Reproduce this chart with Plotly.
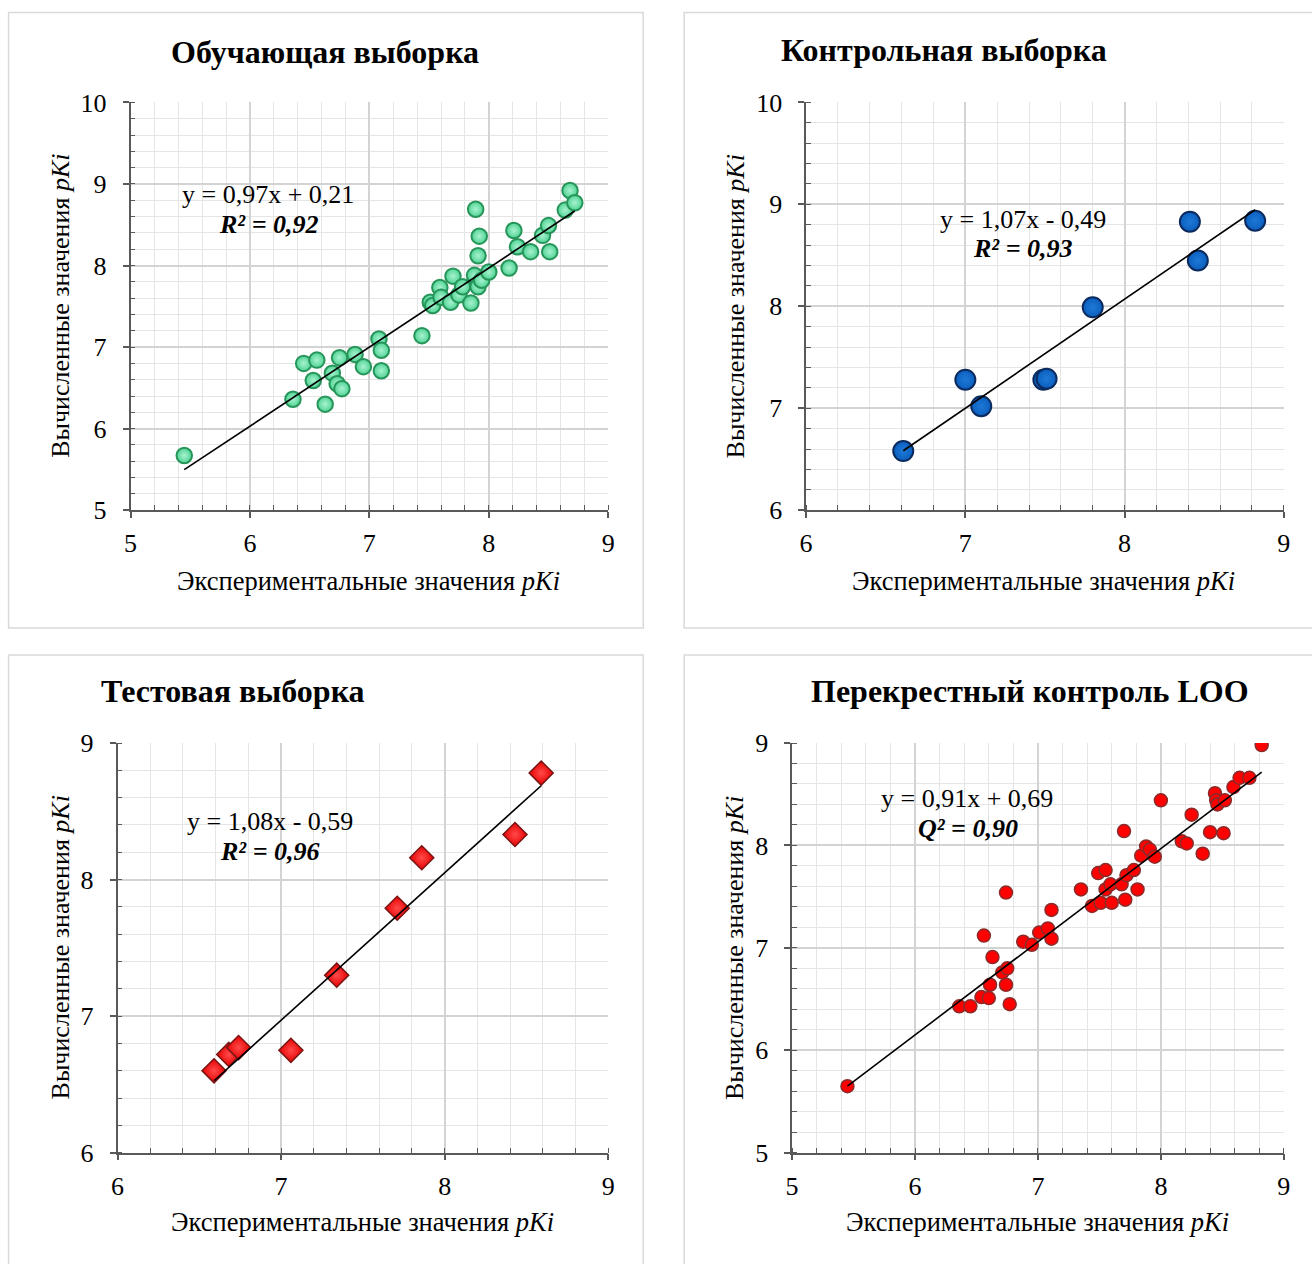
import plotly.graph_objects as go

W, H = 1320, 1280
SERIF = "Liberation Serif"

# placement of the figure in the final 1312 x 1264 view:
# view_x = OX + SX * figure_x, view_y = OY + SY * figure_y
OX, SX = 6.4, 0.99
OY, SY = 13.5, 0.978

# ---- data: experimental (x) vs. calculated (y) pKi ----
train_x = [5.45, 6.36, 6.45, 6.56, 6.53, 6.63, 6.69, 6.75, 6.73, 6.77, 6.88, 6.95, 7.08, 7.10,
           7.10, 7.44, 7.51, 7.53, 7.59, 7.60, 7.68, 7.70, 7.75, 7.78, 7.85, 7.88, 7.91, 7.94,
           8.00, 7.89, 7.92, 7.91, 8.17, 8.21, 8.24, 8.35, 8.45, 8.50, 8.51, 8.64, 8.68, 8.72]
train_y = [5.67, 6.36, 6.80, 6.84, 6.59, 6.30, 6.68, 6.87, 6.55, 6.49, 6.91, 6.76, 7.10, 6.96,
           6.71, 7.14, 7.55, 7.51, 7.73, 7.61, 7.55, 7.87, 7.64, 7.74, 7.54, 7.88, 7.74, 7.82,
           7.92, 8.69, 8.36, 8.12, 7.97, 8.43, 8.23, 8.17, 8.37, 8.49, 8.17, 8.68, 8.92, 8.77]

control_x = [6.61, 7.00, 7.10, 7.49, 7.51, 7.80, 8.41, 8.46, 8.82]
control_y = [6.58, 7.28, 7.02, 7.28, 7.29, 7.99, 8.83, 8.45, 8.84]

test_x = [6.59, 6.68, 6.74, 7.06, 7.34, 7.71, 7.86, 8.43, 8.59]
test_y = [6.60, 6.72, 6.77, 6.75, 7.30, 7.79, 8.16, 8.33, 8.78]

loo_x = [5.45, 6.36, 6.45, 6.54, 6.60, 6.61, 6.56, 6.63, 6.71, 6.75, 6.74, 6.77, 6.74, 6.88,
         6.95, 7.01, 7.08, 7.11, 7.11, 7.35, 7.44, 7.49, 7.55, 7.51, 7.60, 7.55, 7.59, 7.68,
         7.72, 7.71, 7.78, 7.81, 7.70, 7.84, 7.88, 7.91, 7.95, 8.00, 8.17, 8.21, 8.25, 8.34,
         8.40, 8.51, 8.44, 8.45, 8.46, 8.52, 8.59, 8.64, 8.72, 8.82]
loo_y = [5.65, 6.43, 6.43, 6.52, 6.51, 6.64, 7.12, 6.91, 6.76, 6.80, 6.64, 6.45, 7.54, 7.06,
         7.03, 7.15, 7.19, 7.09, 7.37, 7.57, 7.41, 7.73, 7.76, 7.44, 7.44, 7.57, 7.62, 7.62,
         7.71, 7.47, 7.76, 7.57, 8.14, 7.90, 7.99, 7.96, 7.89, 8.44, 8.04, 8.02, 8.30, 7.92,
         8.13, 8.12, 8.51, 8.44, 8.40, 8.44, 8.57, 8.66, 8.66, 8.98]

# regression coefficients (slope, intercept) and fit statistics shown on each panel
fits = [(0.97, 0.21), (1.07, -0.49), (1.08, -0.59), (0.91, 0.69)]
eq_texts = ["y = 0,97x + 0,21", "y = 1,07x - 0,49", "y = 1,08x - 0,59", "y = 0,91x + 0,69"]
stat_texts = ["R² = 0,92", "R² = 0,93", "R² = 0,96", "Q² = 0,90"]
titles = ["Обучающая выборка", "Контрольная выборка", "Тестовая выборка",
          "Перекрестный контроль LOO"]
x_ranges = [[5, 9], [6, 9], [6, 9], [5, 9]]
y_ranges = [[5, 10], [6, 10], [6, 9], [5, 9]]

x_label = "Экспериментальные значения <i>pKi</i>"
y_label = "Вычисленные значения <i>pKi</i>"


def fx(p):
    """view column -> paper x"""
    return ((p - OX) / SX) / W


def fy(p):
    """view row -> paper y"""
    return 1 - ((p - OY) / SY) / H


# plot areas in view pixels: (left, right, top, bottom)
areas = [(130, 608, 102, 510), (806, 1284, 102, 510),
         (117, 608, 743, 1153), (792, 1284, 743, 1153)]
# chart frames in view pixels: (left, right, top, bottom)
frames = [(8, 643, 12, 628), (684, 1340, 12, 628),
          (8, 643, 655, 1300), (684, 1340, 655, 1300)]

markers = [
    dict(symbol="circle", size=15.5, color="#4fd394",
         gradient=dict(type="radial", color="#a8f2cf"),
         line=dict(color="#27955a", width=2)),
    dict(symbol="circle", size=20, color="#0a5fbf",
         gradient=dict(type="radial", color="#1f78d6"),
         line=dict(color="#0b2a5e", width=2)),
    dict(symbol="diamond", size=18.5, color="#e80000",
         gradient=dict(type="radial", color="#ff4a4a"),
         line=dict(color="#7a1414", width=1.5)),
    dict(symbol="circle", size=13, color="#ff0000",
         line=dict(color="#8a2b2b", width=1.5)),
]

series = [(train_x, train_y), (control_x, control_y), (test_x, test_y), (loo_x, loo_y)]

# text positions in view pixels
title_pos = [(325, 52), (944, 50), (233, 691), (1030, 691)]
xlab_pos = [(368, 581), (1044, 581), (362, 1222), (1038, 1222)]
ylab_pos = [(60, 306), (735, 306), (60, 948), (735, 948)]
eq_pos = [(268, 194), (1023, 219), (270, 822), (967, 799)]
stat_pos = [(268, 224), (1023, 248), (269, 852), (968, 829)]

fig = go.Figure()
annotations = []
shapes = []
axis_line = "#595959"

for i in range(4):
    n = "" if i == 0 else str(i + 1)
    xs, ys = series[i]
    L, R, T, B = areas[i]

    fig.add_trace(go.Scatter(x=xs, y=ys, mode="markers", marker=markers[i],
                             xaxis="x" + n, yaxis="y" + n, showlegend=False,
                             hoverinfo="x+y"))
    a, b = fits[i]
    x0, x1 = min(xs), max(xs)
    fig.add_trace(go.Scatter(x=[x0, x1], y=[a * x0 + b, a * x1 + b], mode="lines",
                             line=dict(color="black", width=1.6),
                             xaxis="x" + n, yaxis="y" + n, showlegend=False,
                             hoverinfo="skip"))

    common = dict(
        dtick=1, tick0=0, showgrid=True, gridcolor="#d3d3d3", gridwidth=1.5,
        minor=dict(dtick=0.2, showgrid=True, gridcolor="#e5e5e5", gridwidth=1.3,
                   ticks="inside", ticklen=5, tickcolor=axis_line, tickwidth=1.2),
        ticks="outside", ticklen=6, tickwidth=1.5, tickcolor=axis_line,
        showline=True, linecolor=axis_line, linewidth=1.5, zeroline=False,
        tickfont=dict(family=SERIF, size=26, color="black"), fixedrange=True,
    )
    fig.update_layout(**{
        "xaxis" + n: dict(domain=[fx(L), fx(R)], range=x_ranges[i], anchor="y" + n,
                          ticklabelstandoff=3, **common),
        "yaxis" + n: dict(domain=[fy(B), fy(T)], range=y_ranges[i], anchor="x" + n,
                          ticklabelstandoff=11, **common),
    })

    fl, fr, ft, fb = frames[i]
    shapes.append(dict(type="rect", xref="paper", yref="paper",
                       x0=fx(fl), x1=fx(fr), y0=fy(fb), y1=fy(ft),
                       line=dict(color="#d9d9d9", width=1.5), layer="below"))

    tx, ty = title_pos[i]
    annotations.append(dict(text="<b>" + titles[i] + "</b>", x=fx(tx), y=fy(ty),
                            xref="paper", yref="paper", showarrow=False,
                            xanchor="center", yanchor="middle",
                            font=dict(family=SERIF, size=32, color="black")))
    lx, ly = xlab_pos[i]
    annotations.append(dict(text=x_label, x=fx(lx), y=fy(ly), xref="paper", yref="paper",
                            showarrow=False, xanchor="center", yanchor="middle",
                            font=dict(family=SERIF, size=26.5, color="black")))
    vx, vy = ylab_pos[i]
    annotations.append(dict(text=y_label, x=fx(vx), y=fy(vy), xref="paper", yref="paper",
                            showarrow=False, xanchor="center", yanchor="middle",
                            textangle=-90,
                            font=dict(family=SERIF, size=26, color="black")))
    ex, ey = eq_pos[i]
    annotations.append(dict(text=eq_texts[i], x=fx(ex), y=fy(ey), xref="paper", yref="paper",
                            showarrow=False, xanchor="center", yanchor="middle",
                            font=dict(family=SERIF, size=26, color="black")))
    sx, sy = stat_pos[i]
    annotations.append(dict(text="<b><i>" + stat_texts[i] + "</i></b>", x=fx(sx), y=fy(sy),
                            xref="paper", yref="paper", showarrow=False,
                            xanchor="center", yanchor="middle",
                            font=dict(family=SERIF, size=26, color="black")))

fig.update_layout(width=W, height=H, margin=dict(l=0, r=0, t=0, b=0),
                  paper_bgcolor="white", plot_bgcolor="rgba(0,0,0,0)",
                  annotations=annotations, shapes=shapes, showlegend=False)

fig.write_html("out.html", config={"displayModeBar": False})
